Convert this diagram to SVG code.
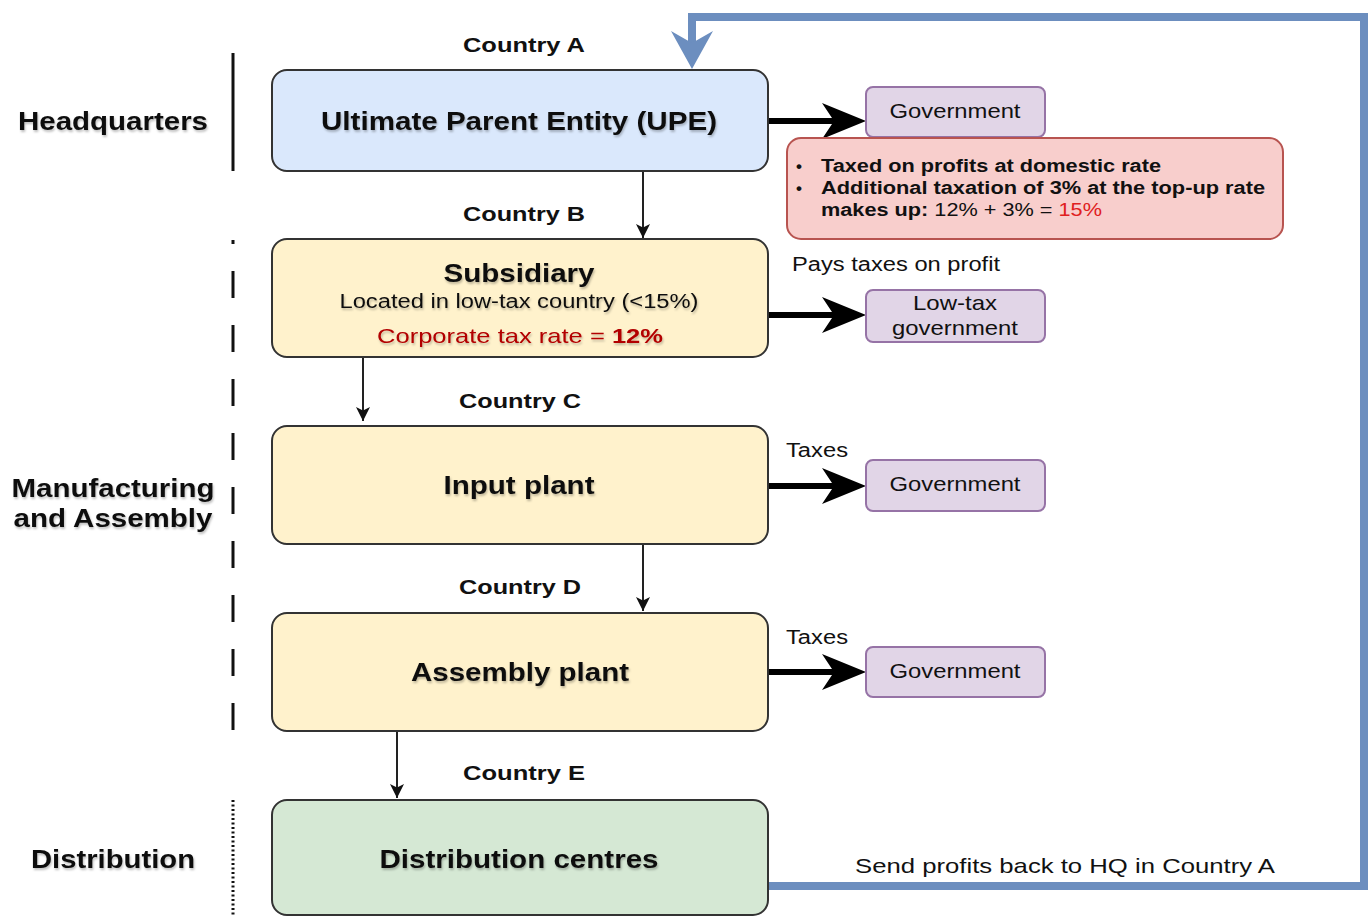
<svg xmlns="http://www.w3.org/2000/svg" width="1370" height="917" viewBox="0 0 1370 917">
<style>
text{font-family:"Liberation Sans",Arial,sans-serif;fill:#111}
.b{font-weight:bold}
.node{stroke:#333;stroke-width:2}
.up{fill:#dae8fc}
.ye{fill:#fff2cc}
.gr{fill:#d5e8d4}
.gov{fill:#e1d5e7;stroke:#9673a6;stroke-width:2}
.red{fill:#f8cecc;stroke:#b85450;stroke-width:2}
.thin{stroke:#222;stroke-width:2;fill:none}
.thick{stroke:#000;stroke-width:6;fill:none}
.blue{stroke:#6c8ebf;stroke-width:8;fill:none}
.sh{filter:url(#ts)}
</style>
<defs>
<filter id="ts" x="-5%" y="-20%" width="110%" height="140%"><feDropShadow dx="1" dy="2" stdDeviation="1.2" flood-color="#000" flood-opacity="0.25"/></filter>
<marker id="ah" markerUnits="userSpaceOnUse" markerWidth="14" markerHeight="14" refX="10" refY="5" orient="auto" viewBox="0 0 10 10"><path d="M0,0 L10,5 L0,10 L2.5,5 Z" fill="#111"/></marker>
</defs>
<rect width="1370" height="917" fill="#fff"/>

<g id="lanes">
<line x1="233" y1="53" x2="233" y2="171" stroke="#111" stroke-width="3"/>
<line x1="233" y1="240" x2="233" y2="731" stroke="#111" stroke-width="3" stroke-dasharray="27 27" stroke-dashoffset="23"/>
<line x1="233" y1="800" x2="233" y2="917" stroke="#111" stroke-width="3" stroke-dasharray="2 2.5"/>
<text class="b sh" x="113" y="130" font-size="25" text-anchor="middle" textLength="190" lengthAdjust="spacingAndGlyphs">Headquarters</text>
<text class="b sh" x="113" y="497" font-size="25" text-anchor="middle" textLength="203" lengthAdjust="spacingAndGlyphs">Manufacturing</text>
<text class="b sh" x="113" y="527" font-size="25" text-anchor="middle" textLength="199" lengthAdjust="spacingAndGlyphs">and Assembly</text>
<text class="b sh" x="113" y="868" font-size="25" text-anchor="middle" textLength="164" lengthAdjust="spacingAndGlyphs">Distribution</text>
</g>

<g id="country-labels" class="b">
<text x="524" y="52" font-size="20" text-anchor="middle" textLength="122" lengthAdjust="spacingAndGlyphs">Country A</text>
<text x="524" y="221" font-size="20" text-anchor="middle" textLength="122" lengthAdjust="spacingAndGlyphs">Country B</text>
<text x="520" y="408" font-size="20" text-anchor="middle" textLength="122" lengthAdjust="spacingAndGlyphs">Country C</text>
<text x="520" y="594" font-size="20" text-anchor="middle" textLength="122" lengthAdjust="spacingAndGlyphs">Country D</text>
<text x="524" y="780" font-size="20" text-anchor="middle" textLength="122" lengthAdjust="spacingAndGlyphs">Country E</text>
</g>

<g id="connectors">
<line class="thin" x1="643" y1="171" x2="643" y2="238" marker-end="url(#ah)"/>
<line class="thin" x1="363" y1="357" x2="363" y2="421" marker-end="url(#ah)"/>
<line class="thin" x1="643" y1="544" x2="643" y2="611" marker-end="url(#ah)"/>
<line class="thin" x1="397" y1="731" x2="397" y2="798" marker-end="url(#ah)"/>
<line class="thick" x1="768" y1="121" x2="838" y2="121"/>
<path d="M866,121 L822,103 L834,121 L822,139 Z" fill="#000"/>
<line class="thick" x1="768" y1="315" x2="838" y2="315"/>
<path d="M866,315 L822,297 L834,315 L822,333 Z" fill="#000"/>
<line class="thick" x1="768" y1="486" x2="838" y2="486"/>
<path d="M866,486 L822,468 L834,486 L822,504 Z" fill="#000"/>
<line class="thick" x1="768" y1="672" x2="838" y2="672"/>
<path d="M866,672 L822,654 L834,672 L822,690 Z" fill="#000"/>
<path class="blue" d="M768,886 L1364,886 L1364,17 L692,17 L692,44"/>
<path d="M692,69 L671,31 L692,43 L713,31 Z" fill="#6c8ebf"/>
<text x="786" y="457" font-size="20" textLength="62" lengthAdjust="spacingAndGlyphs">Taxes</text>
<text x="786" y="644" font-size="20" textLength="62" lengthAdjust="spacingAndGlyphs">Taxes</text>
<text x="792" y="271" font-size="20" textLength="208" lengthAdjust="spacingAndGlyphs">Pays taxes on profit</text>
<text x="855" y="873" font-size="21" textLength="420" lengthAdjust="spacingAndGlyphs">Send profits back to HQ in Country A</text>
</g>

<g id="upe">
<rect class="node up" x="272" y="70" width="496" height="101" rx="15"/>
<text class="b sh" x="519" y="130" font-size="26" text-anchor="middle" textLength="396" lengthAdjust="spacingAndGlyphs">Ultimate Parent Entity (UPE)</text>
</g>

<g id="subsidiary">
<rect class="node ye" x="272" y="239" width="496" height="118" rx="15"/>
<text class="b sh" x="519" y="282" font-size="25" text-anchor="middle" textLength="151" lengthAdjust="spacingAndGlyphs">Subsidiary</text>
<text class="sh" x="519" y="308" font-size="20" text-anchor="middle" textLength="359" lengthAdjust="spacingAndGlyphs">Located in low-tax country (&lt;15%)</text>
<text class="sh" x="520" y="343" font-size="21" text-anchor="middle" textLength="286" lengthAdjust="spacingAndGlyphs" style="fill:#b20000">Corporate tax rate = <tspan class="b" style="fill:#b20000">12%</tspan></text>
</g>

<g id="input-plant">
<rect class="node ye" x="272" y="426" width="496" height="118" rx="15"/>
<text class="b sh" x="519" y="494" font-size="25" text-anchor="middle" textLength="151" lengthAdjust="spacingAndGlyphs">Input plant</text>
</g>

<g id="assembly-plant">
<rect class="node ye" x="272" y="613" width="496" height="118" rx="15"/>
<text class="b sh" x="520" y="681" font-size="25" text-anchor="middle" textLength="218" lengthAdjust="spacingAndGlyphs">Assembly plant</text>
</g>

<g id="distribution">
<rect class="node gr" x="272" y="800" width="496" height="115" rx="15"/>
<text class="b sh" x="519" y="868" font-size="25" text-anchor="middle" textLength="279" lengthAdjust="spacingAndGlyphs">Distribution centres</text>
</g>

<g id="gov-a">
<rect class="gov" x="866" y="87" width="179" height="50" rx="7"/>
<text x="955" y="118" font-size="21" text-anchor="middle" textLength="131" lengthAdjust="spacingAndGlyphs">Government</text>
</g>

<g id="topup-note">
<rect class="red" x="787" y="138" width="496" height="101" rx="14"/>
<text class="b" x="796" y="172" font-size="17">•</text>
<text class="b" x="796" y="194" font-size="17">•</text>
<text class="b" x="821" y="172" font-size="18" textLength="340" lengthAdjust="spacingAndGlyphs">Taxed on profits at domestic rate</text>
<text class="b" x="821" y="194" font-size="18" textLength="444" lengthAdjust="spacingAndGlyphs">Additional taxation of 3% at the top-up rate</text>
<text x="821" y="216" font-size="18" textLength="281" lengthAdjust="spacingAndGlyphs"><tspan class="b">makes up:</tspan> 12% + 3% = <tspan style="fill:#e02020">15%</tspan></text>
</g>

<g id="gov-lowtax">
<rect class="gov" x="866" y="290" width="179" height="52" rx="7"/>
<text x="955" y="310" font-size="21" text-anchor="middle" textLength="84" lengthAdjust="spacingAndGlyphs">Low-tax</text>
<text x="955" y="335" font-size="21" text-anchor="middle" textLength="126" lengthAdjust="spacingAndGlyphs">government</text>
</g>

<g id="gov-c">
<rect class="gov" x="866" y="460" width="179" height="51" rx="7"/>
<text x="955" y="491" font-size="21" text-anchor="middle" textLength="131" lengthAdjust="spacingAndGlyphs">Government</text>
</g>

<g id="gov-d">
<rect class="gov" x="866" y="647" width="179" height="50" rx="7"/>
<text x="955" y="678" font-size="21" text-anchor="middle" textLength="131" lengthAdjust="spacingAndGlyphs">Government</text>
</g>
</svg>
